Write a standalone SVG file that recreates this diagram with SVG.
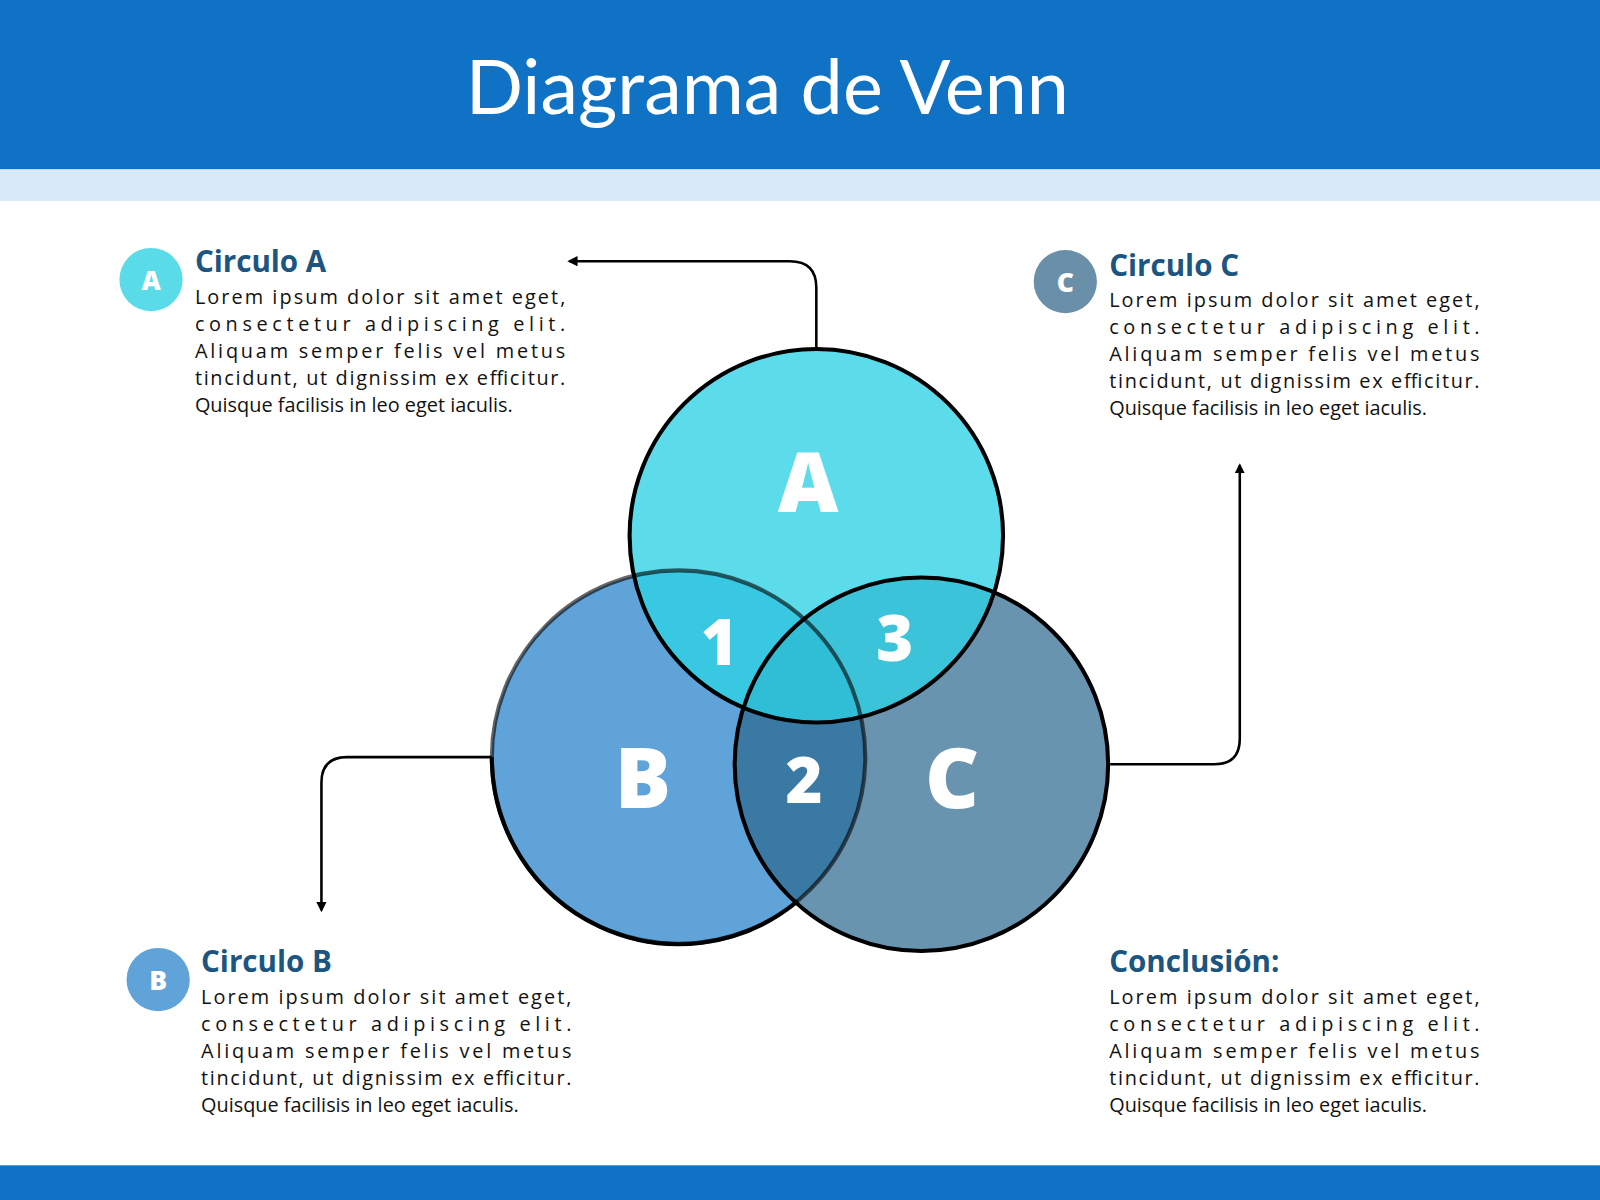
<svg xmlns="http://www.w3.org/2000/svg" width="1600" height="1200" viewBox="0 0 1600 1200">
<defs>
<style>
.t{font-family:"Open Sans","DejaVu Sans",sans-serif;font-weight:bold;fill:#1B5580;font-size:29px}
.b{font-family:"Open Sans","DejaVu Sans",sans-serif;fill:#111;font-size:19.5px}
.L{font-family:"Open Sans","DejaVu Sans",sans-serif;font-weight:800;fill:#fff;text-anchor:middle}
.ln{fill:none;stroke:#000;stroke-width:2.5}
.ci{stroke:#000;stroke-width:4}
</style>
<marker id="ar" viewBox="0 0 10 10" refX="8" refY="5" markerWidth="4" markerHeight="4" orient="auto"><path d="M0,0L10,5L0,10z" fill="#000"/></marker>
</defs>
<g transform="scale(1.0204)">
<rect x="0" y="0" width="1568" height="166" fill="#1072C4"/>
<rect x="0" y="166" width="1568" height="31" fill="#D6EAF9"/>
<rect x="0" y="1142" width="1568" height="40" fill="#1072C4"/>
<text x="752" y="112" text-anchor="middle" font-family="Lato,'Open Sans',sans-serif" font-size="74" fill="#fff">Diagrama de Venn</text>
<g id="connectors">
<path class="ln" d="M800,342V282Q800,256 774,256H558" marker-end="url(#ar)"/>
<path class="ln" d="M483,742H340Q315,742 315,767V892" marker-end="url(#ar)"/>
<path class="ln" d="M1088,749H1190Q1215,749 1215,724V456" marker-end="url(#ar)"/>
</g>
<g id="venn">
<circle cx="665" cy="742" r="183" fill="#5FA3D8"/>
<circle cx="903" cy="749" r="183" fill="#2A668E" fill-opacity="0.7"/>
<circle cx="800" cy="525" r="183" fill="#2ED2E4" fill-opacity="0.78"/>
<circle class="ci" cx="665" cy="742" r="183" fill="none" stroke-opacity="0.6"/>
<circle class="ci" cx="903" cy="749" r="183" fill="none"/>
<circle class="ci" cx="800" cy="525" r="183" fill="none"/>
<path class="ci" fill="none" d="M482,742A183,183 0 0 0 782,883"/>
<text class="L" x="792" y="502" font-size="82">A</text>
<text class="L" x="705" y="652" font-size="62">1</text>
<text class="L" x="877" y="648" font-size="62">3</text>
<text class="L" x="630" y="792" font-size="82">B</text>
<text class="L" x="788" y="787" font-size="62">2</text>
<text class="L" x="933" y="792" font-size="82">C</text>
</g>
<g id="circuloA">
<circle cx="148" cy="274" r="31" fill="#5ADCE8"/>
<text class="L" x="148" y="284" font-size="26">A</text>
<text class="t" x="191" y="267">Circulo A</text>
<text class="b" x="191" y="298" textLength="363" lengthAdjust="spacing">Lorem ipsum dolor sit amet eget,</text>
<text class="b" x="191" y="324" textLength="363" lengthAdjust="spacing">consectetur adipiscing elit.</text>
<text class="b" x="191" y="351" textLength="363" lengthAdjust="spacing">Aliquam semper felis vel metus</text>
<text class="b" x="191" y="377" textLength="363" lengthAdjust="spacing">tincidunt, ut dignissim ex efficitur.</text>
<text class="b" x="191" y="404">Quisque facilisis in leo eget iaculis.</text>
</g>
<g id="circuloC">
<circle cx="1044" cy="276" r="31" fill="#6A8FA8"/>
<text class="L" x="1044" y="286" font-size="26">C</text>
<text class="t" x="1087" y="270">Circulo C</text>
<text class="b" x="1087" y="301" textLength="363" lengthAdjust="spacing">Lorem ipsum dolor sit amet eget,</text>
<text class="b" x="1087" y="327" textLength="363" lengthAdjust="spacing">consectetur adipiscing elit.</text>
<text class="b" x="1087" y="354" textLength="363" lengthAdjust="spacing">Aliquam semper felis vel metus</text>
<text class="b" x="1087" y="380" textLength="363" lengthAdjust="spacing">tincidunt, ut dignissim ex efficitur.</text>
<text class="b" x="1087" y="407">Quisque facilisis in leo eget iaculis.</text>
</g>
<g id="circuloB">
<circle cx="155" cy="960" r="31" fill="#5FA3D8"/>
<text class="L" x="155" y="970" font-size="26">B</text>
<text class="t" x="197" y="953">Circulo B</text>
<text class="b" x="197" y="984" textLength="363" lengthAdjust="spacing">Lorem ipsum dolor sit amet eget,</text>
<text class="b" x="197" y="1010" textLength="363" lengthAdjust="spacing">consectetur adipiscing elit.</text>
<text class="b" x="197" y="1037" textLength="363" lengthAdjust="spacing">Aliquam semper felis vel metus</text>
<text class="b" x="197" y="1063" textLength="363" lengthAdjust="spacing">tincidunt, ut dignissim ex efficitur.</text>
<text class="b" x="197" y="1090">Quisque facilisis in leo eget iaculis.</text>
</g>
<g id="conclusion">
<text class="t" x="1087" y="953">Conclusión:</text>
<text class="b" x="1087" y="984" textLength="363" lengthAdjust="spacing">Lorem ipsum dolor sit amet eget,</text>
<text class="b" x="1087" y="1010" textLength="363" lengthAdjust="spacing">consectetur adipiscing elit.</text>
<text class="b" x="1087" y="1037" textLength="363" lengthAdjust="spacing">Aliquam semper felis vel metus</text>
<text class="b" x="1087" y="1063" textLength="363" lengthAdjust="spacing">tincidunt, ut dignissim ex efficitur.</text>
<text class="b" x="1087" y="1090">Quisque facilisis in leo eget iaculis.</text>
</g>
</g>
</svg>
